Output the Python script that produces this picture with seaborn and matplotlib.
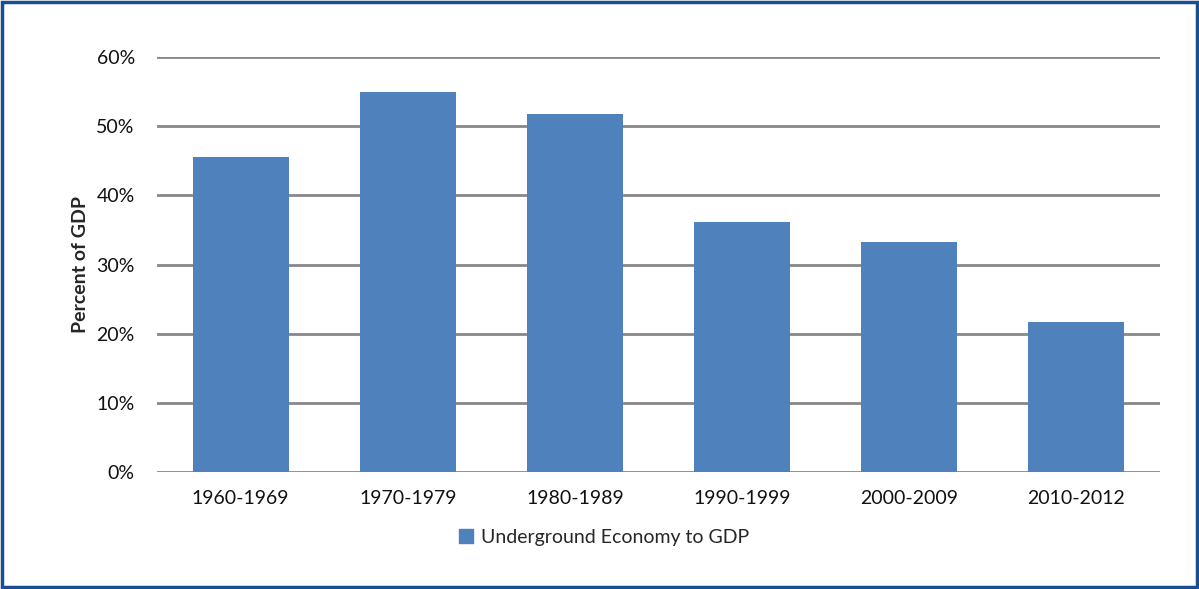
import matplotlib
matplotlib.use('Agg')
import matplotlib.pyplot as plt
import seaborn as sns
import pandas as pd
from matplotlib.ticker import PercentFormatter

# data
periods = ['1960-1969', '1970-1979', '1980-1989', '1990-1999', '2000-2009', '2010-2012']
share   = [45.6, 55.0, 51.7, 36.2, 33.3, 21.7]
series_name = 'Underground Economy to GDP'

BAR_COLOR  = '#4F81BD'
GRID_COLOR = '#878787'
FRAME_COLOR = '#1A4F8F'

sns.set_theme(style='white')
plt.rcParams['font.family'] = ['Lato', 'DejaVu Sans']

df = pd.DataFrame({'period': periods, 'share': share, 'series': series_name})

fig = plt.figure(figsize=(11.99, 5.89), dpi=100)
ax = fig.add_axes([157 / 1199, 1 - 472 / 589, (1160 - 157) / 1199, (472 - 57) / 589])

sns.barplot(data=df, x='period', y='share', hue='series', palette=[BAR_COLOR],
            width=0.575, saturation=1, linewidth=0, ax=ax, legend=False)
for p in ax.patches:
    p.set_zorder(3)

ax.set_ylim(0, 60)
ax.set_yticks(range(0, 61, 10))
ax.yaxis.set_major_formatter(PercentFormatter(decimals=0))
ax.grid(axis='y', color=GRID_COLOR, linewidth=2, zorder=0)
ax.set_axisbelow(True)
for s in ax.spines.values():
    s.set_visible(False)
ax.tick_params(axis='both', length=0, labelsize=14, colors='#111111')
ax.tick_params(axis='x', pad=13)
ax.tick_params(axis='y', pad=16)
ax.set_xlabel('')
ax.set_ylabel('Percent of GDP', fontsize=14, fontweight='bold', labelpad=5)

# legend centred on the figure, below the axis
handle = plt.Rectangle((0, 0), 1, 1, color=BAR_COLOR)
fig.legend([handle], [series_name], loc='center', bbox_to_anchor=(604 / 1199, 1 - 537 / 589),
           frameon=False, fontsize=14, handlelength=0.75, handleheight=0.75, handletextpad=0.4)

# outer frame around the figure
fig.patches.append(plt.Rectangle((0.002, 0.003), 0.996, 0.994, transform=fig.transFigure,
                                 fill=False, edgecolor=FRAME_COLOR, linewidth=2.5))

fig.savefig('out.png', dpi=100)
